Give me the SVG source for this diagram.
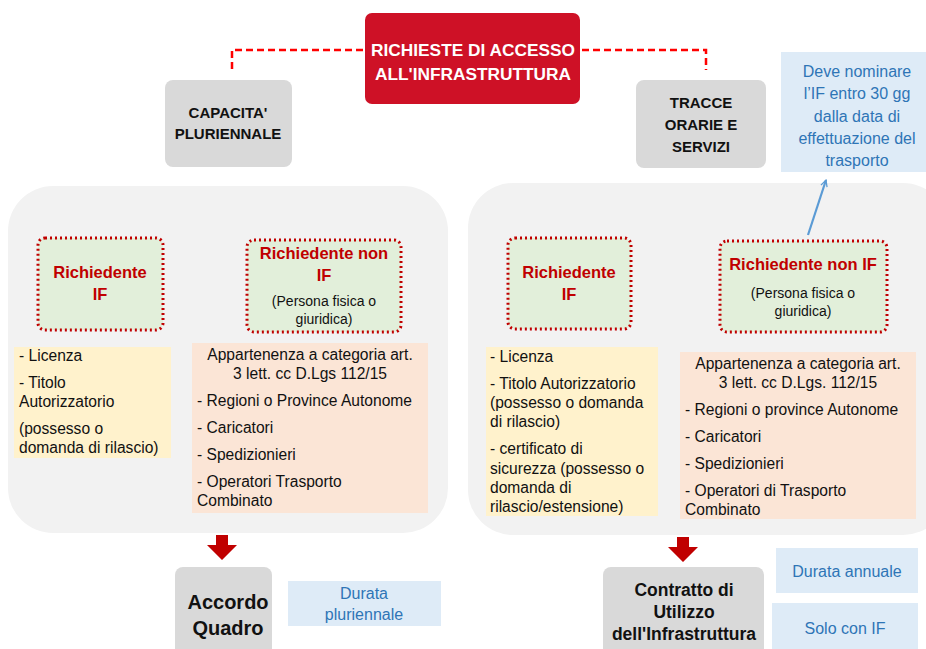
<svg xmlns="http://www.w3.org/2000/svg" width="926" height="649" viewBox="0 0 926 649">
<style>
text{font-family:"Liberation Sans",Arial,sans-serif;}
.panel{fill:#F2F2F2;}
.gray{fill:#D9D9D9;}
.green{fill:#E2EFDA;stroke:#C00000;stroke-width:3;stroke-dasharray:2 3;}
.yellow{fill:#FFF2CC;}
.peach{fill:#FBE5D6;}
.blue{fill:#DEEBF7;}
.hd{font-weight:bold;font-size:15px;fill:#111;text-anchor:middle;}
.red{font-weight:bold;font-size:16.5px;fill:#C00000;text-anchor:middle;}
.body{font-size:15.6px;fill:#111;}
.small{font-size:14px;fill:#111;text-anchor:middle;}
.bt{font-size:16px;fill:#2E75B6;text-anchor:middle;}
.dash{fill:none;stroke:#FF0000;stroke-width:2.5;stroke-dasharray:7 4;}
.big{font-weight:bold;fill:#111;text-anchor:middle;}
</style>
<defs>
<marker id="ah" viewBox="0 0 10 10" refX="9" refY="5" markerWidth="8" markerHeight="8" orient="auto" markerUnits="userSpaceOnUse">
<path d="M1,1 L9,5 L1,9" fill="none" stroke="#5B9BD5" stroke-width="1.6"/>
</marker>
</defs>

<g id="panel-left">
<rect class="panel" x="8" y="186" width="440" height="347" rx="45"/>
</g>
<g id="panel-right">
<rect class="panel" x="468" y="183" width="480" height="352" rx="45"/>
</g>

<g id="root">
<rect x="365" y="13" width="215" height="91" rx="7" fill="#CE1126"/>
<text x="473" y="56" text-anchor="middle" font-weight="bold" font-size="17.3" fill="#fff">RICHIESTE DI ACCESSO</text>
<text x="473" y="80" text-anchor="middle" font-weight="bold" font-size="17.3" fill="#fff">ALL'INFRASTRUTTURA</text>
</g>

<g id="capacita">
<rect class="gray" x="165" y="80" width="127" height="87" rx="8"/>
<text class="hd" x="228" y="118">CAPACITA'</text>
<text class="hd" x="228" y="139">PLURIENNALE</text>
</g>

<g id="tracce">
<rect class="gray" x="636" y="80" width="130" height="88" rx="8"/>
<text class="hd" x="701" y="108">TRACCE</text>
<text class="hd" x="701" y="130">ORARIE E</text>
<text class="hd" x="701" y="152">SERVIZI</text>
</g>

<g id="nota-if">
<rect class="blue" x="781" y="52" width="145" height="120"/>
<text class="bt" x="857" y="77">Deve nominare</text>
<text class="bt" x="857" y="99">l’IF entro 30 gg</text>
<text class="bt" x="857" y="122">dalla data di</text>
<text class="bt" x="857" y="144">effettuazione del</text>
<text class="bt" x="857" y="166">trasporto</text>
</g>

<g id="rich-if-left">
<rect class="green" x="38" y="238" width="125" height="92" rx="7"/>
<text class="red" x="100" y="278">Richiedente</text>
<text class="red" x="100" y="300">IF</text>
</g>

<g id="rich-nonif-left">
<rect class="green" x="247" y="240" width="154" height="92" rx="7"/>
<text class="red" x="324" y="259">Richiedente non</text>
<text class="red" x="324" y="281">IF</text>
<text class="small" x="324" y="306">(Persona fisica o</text>
<text class="small" x="324" y="324">giuridica)</text>
</g>

<g id="req-if-left">
<rect class="yellow" x="14" y="347" width="157" height="111"/>
<text class="body" x="19" y="361">- Licenza</text>
<text class="body" x="19" y="388">- Titolo</text>
<text class="body" x="19" y="407">Autorizzatorio</text>
<text class="body" x="19" y="434">(possesso o</text>
<text class="body" x="19" y="453">domanda di rilascio)</text>
</g>

<g id="req-nonif-left">
<rect class="peach" x="192" y="343" width="236" height="170"/>
<text class="body" x="310" y="360" text-anchor="middle">Appartenenza a categoria art.</text>
<text class="body" x="310" y="379" text-anchor="middle">3 lett. cc D.Lgs 112/15</text>
<text class="body" x="197" y="406">- Regioni o Province Autonome</text>
<text class="body" x="197" y="433">- Caricatori</text>
<text class="body" x="197" y="460">- Spedizionieri</text>
<text class="body" x="197" y="487">- Operatori Trasporto</text>
<text class="body" x="197" y="506">Combinato</text>
</g>

<g id="rich-if-right">
<rect class="green" x="508" y="238" width="123" height="91" rx="7"/>
<text class="red" x="569" y="278">Richiedente</text>
<text class="red" x="569" y="300">IF</text>
</g>

<g id="rich-nonif-right">
<rect class="green" x="720" y="241" width="167" height="91" rx="7"/>
<text class="red" x="803" y="270">Richiedente non IF</text>
<text class="small" x="803" y="298">(Persona fisica o</text>
<text class="small" x="803" y="316">giuridica)</text>
</g>

<g id="req-if-right">
<rect class="yellow" x="486" y="347" width="172" height="169"/>
<text class="body" x="490" y="362">- Licenza</text>
<text class="body" x="490" y="389">- Titolo Autorizzatorio</text>
<text class="body" x="490" y="408">(possesso o domanda</text>
<text class="body" x="490" y="427">di rilascio)</text>
<text class="body" x="490" y="454">- certificato di</text>
<text class="body" x="490" y="474">sicurezza (possesso o</text>
<text class="body" x="490" y="493">domanda di</text>
<text class="body" x="490" y="512">rilascio/estensione)</text>
</g>

<g id="req-nonif-right">
<rect class="peach" x="680" y="352" width="236" height="167"/>
<text class="body" x="798" y="369" text-anchor="middle">Appartenenza a categoria art.</text>
<text class="body" x="798" y="388" text-anchor="middle">3 lett. cc D.Lgs. 112/15</text>
<text class="body" x="685" y="415">- Regioni o province Autonome</text>
<text class="body" x="685" y="442">- Caricatori</text>
<text class="body" x="685" y="469">- Spedizionieri</text>
<text class="body" x="685" y="496">- Operatori di Trasporto</text>
<text class="body" x="685" y="515">Combinato</text>
</g>

<g id="accordo">
<rect class="gray" x="175" y="567" width="97" height="95" rx="8"/>
<text class="big" x="228" y="609" font-size="20">Accordo</text>
<text class="big" x="228" y="635" font-size="20">Quadro</text>
</g>

<g id="durata-pluri">
<rect class="blue" x="288" y="581" width="153" height="45"/>
<text class="bt" x="364" y="599">Durata</text>
<text class="bt" x="364" y="620">pluriennale</text>
</g>

<g id="contratto">
<rect class="gray" x="603" y="567" width="161" height="95" rx="8"/>
<text class="big" x="684" y="596" font-size="17.5">Contratto di</text>
<text class="big" x="684" y="618" font-size="17.5">Utilizzo</text>
<text class="big" x="684" y="640" font-size="17.5">dell'Infrastruttura</text>
</g>

<g id="durata-annuale">
<rect class="blue" x="776" y="548" width="142" height="45"/>
<text class="bt" x="847" y="577">Durata annuale</text>
</g>

<g id="solo-if">
<rect class="blue" x="772" y="603" width="146" height="46"/>
<text class="bt" x="845" y="634">Solo con IF</text>
</g>

<g id="connectors">
<path class="dash" d="M363,50 H232 V70"/>
<path class="dash" d="M582,50 H706 V70"/>
<line x1="808" y1="235" x2="826" y2="180" stroke="#5B9BD5" stroke-width="2.2" marker-end="url(#ah)"/>
<path d="M216,535 H228 V545 H237 L222,560 L207,545 H216 Z" fill="#C00000"/>
<path d="M677,537 H689 V547 H698 L683,562 L668,547 H677 Z" fill="#C00000"/>
</g>
</svg>
